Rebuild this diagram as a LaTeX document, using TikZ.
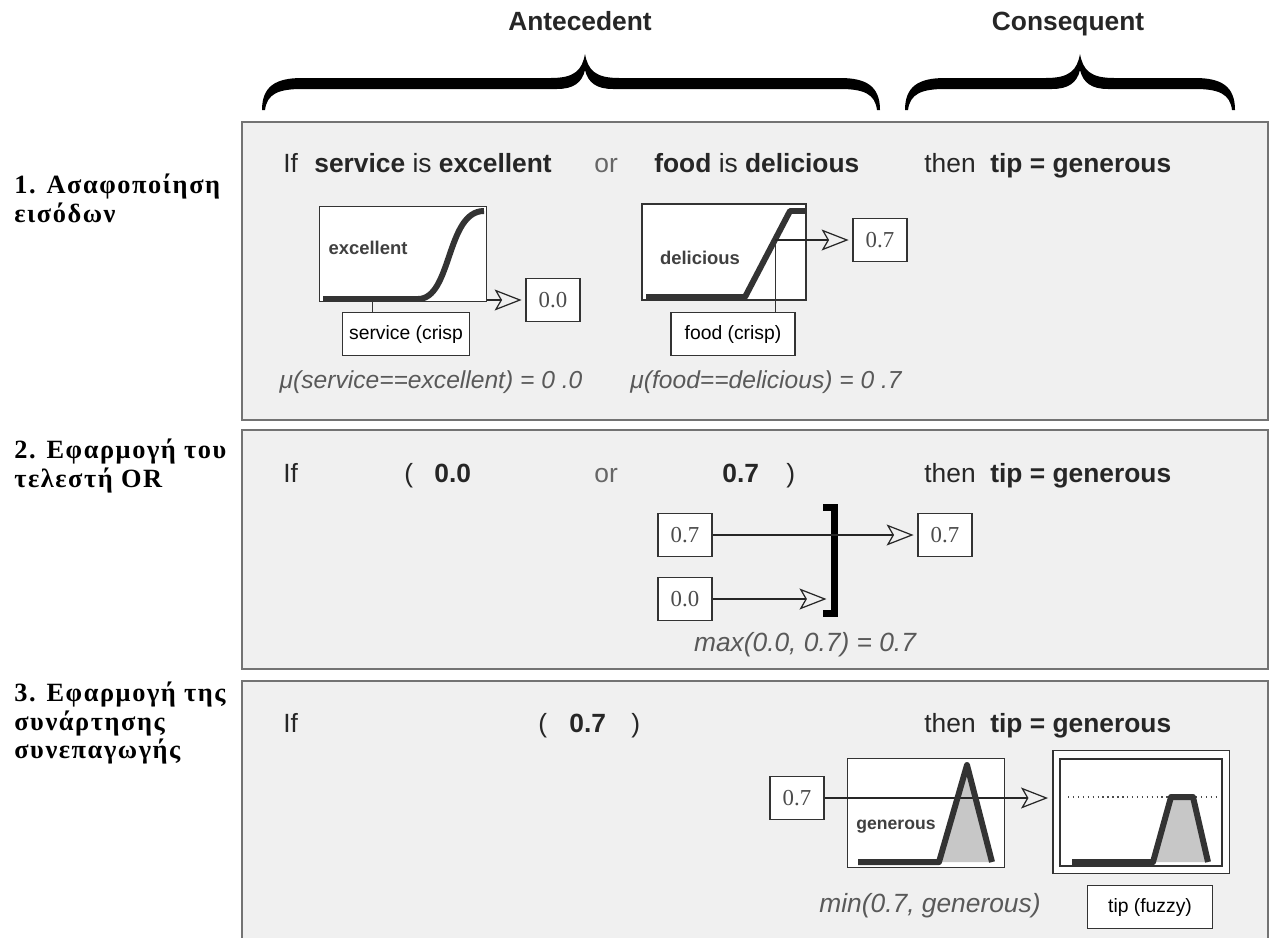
\documentclass[tikz,border=0pt]{standalone}
\usepackage{fontspec}
\setmainfont{Liberation Sans}
\newfontfamily\grfont[LetterSpace=6]{Liberation Serif}
\newfontfamily\numfont{Liberation Serif}
\usetikzlibrary{arrows.meta}

% accolade pleine : debut, pointe, fin
\newcommand\gbrace[3]{%
  \fill[black] (#1,110) .. controls (#1,86) and ({#1+14},78) .. ({#1+40},78)
    -- ({#2-34},78) .. controls ({#2-10},78) and ({#2-3},70) .. (#2,54)
    .. controls ({#2+3},70) and ({#2+10},78) .. ({#2+34},78)
    -- ({#3-40},78) .. controls ({#3-14},78) and (#3,86) .. (#3,110)
    -- ({#3-3},110) .. controls ({#3-5},94) and ({#3-16},89) .. ({#3-40},89)
    -- ({#2+28},89) .. controls ({#2+12},89) and ({#2+3},83) .. (#2,70)
    .. controls ({#2-3},83) and ({#2-12},89) .. ({#2-28},89)
    -- ({#1+40},89) .. controls ({#1+16},89) and ({#1+5},94) .. ({#1+3},110) -- cycle;}

\tikzset{
  panel/.style={draw=black!55, fill=black!6, line width=1.2pt},
  headtext/.style={anchor=base, font=\bfseries\fontsize{15}{17}\selectfont, text=black!85},
  steplabel/.style={anchor=north west, align=left, inner sep=0pt,
    font=\grfont\bfseries\fontsize{15}{16}\selectfont},
  rule/.style={anchor=base west, inner sep=0pt, text=black!85,
    font=\fontsize{15}{17}\selectfont},
  formula/.style={font=\itshape\fontsize{15}{17}\selectfont, text=black!65},
  lbl/.style={font=\bfseries\fontsize{10.5}{12}\selectfont, text=black!75},
  mfbox/.style={draw=black!80, fill=white, line width=1.1pt, inner sep=0pt},
  valbox/.style={draw=black!80, fill=white, line width=1pt, inner sep=0pt,
    minimum width=1.08cm, minimum height=0.86cm, text=black!70,
    font=\numfont\fontsize{13}{15}\selectfont},
  crispbox/.style={draw=black!80, fill=white, line width=1pt, inner sep=0pt,
    minimum width=2.54cm, minimum height=0.86cm,
    font=\fontsize{11}{13}\selectfont},
  mfline/.style={draw=black!80, line width=3.4pt, line join=round},
  conn/.style={draw=black!85, line width=0.7pt, shorten >=2pt,
    -{Stealth[open, length=0.54cm, width=0.42cm, inset=0.12cm]}}
}

\begin{document}
\begin{tikzpicture}[x=0.02cm, y=-0.02cm]
        \clip (0,0) rectangle (1270,937);
        \fill[white] (0,0) rectangle (1270,937);

        % accolades
        \gbrace{262}{585}{880}
        \gbrace{905}{1080}{1235}
        \node[headtext] at (580,30) (ante) {Antecedent};
        \node[headtext] at (1068,30) (cons) {Consequent};

        % cadres
        \draw[panel] (242,122) rectangle (1268,420);
        \draw[panel] (242,430) rectangle (1268,669);
        \draw[panel] (242,681) rectangle (1268,960);

        \node[steplabel] at (14,174) (s1) {1. Ασαφοποίηση\\εισόδων};
        \node[steplabel] at (14,439) (s2) {2. Εφαρμογή του\\τελεστή OR};
        \node[steplabel] at (14,682) (s3) {3. Εφαρμογή της\\συνάρτησης\\συνεπαγωγής};

        % etape 1
        \node[rule] at (283,172) (if1) {If};
        \node[rule] at (314,172) (ant1) {\textbf{service} is \textbf{excellent}};
        \node[rule, text=black!60] at (594,172) (or1) {or};
        \node[rule] at (654,172) (ant2) {\textbf{food} is \textbf{delicious}};
        \node[rule] at (924,172) (then1) {then};
        \node[rule] at (990,172) (cons1) {\textbf{tip = generous}};

        \node[mfbox, minimum width=3.34cm, minimum height=1.9cm] at (403,254) (mfexc) {};
        \draw[mfline] (323,299) -- (418,299) .. controls (452,299) and (446,211) .. (484,211);
        \node[lbl] at (368,248) (lexc) {excellent};
        \node[crispbox] at (406,334) (srv) {service (crisp};
        \node[valbox] at (553,300) (vexc) {0.0};
        \coordinate (cexc) at (372,302);
        \draw[black!80] (cexc) -- (cexc |- srv.north);
        \path[conn] (vexc -| mfexc.east) -- (vexc);

        \node[mfbox, minimum width=3.28cm, minimum height=1.92cm] at (724,252) (mfdel) {};
        \draw[mfline] (646,297) -- (745,297) -- (790,211) -- (805,211);
        \node[lbl] at (700,258) (ldel) {delicious};
        \node[crispbox, minimum width=2.48cm] at (733,334) (fd) {food (crisp)};
        \node[valbox] at (880,240) (vdel) {0.7};
        \coordinate (cdel) at (775,240);
        \draw[black!80] (cdel) -- (cdel |- fd.north);
        \path[conn] (cdel) -- (vdel);

        \node[formula, font=\itshape\fontsize{14}{16}\selectfont] at (431,382) (muexc) {μ(service==excellent) = 0 .0};
        \node[formula, font=\itshape\fontsize{14}{16}\selectfont] at (766,382) (mudel) {μ(food==delicious) = 0 .7};

        % etape 2
        \node[rule] at (283,482) (if2) {If};
        \node[rule] at (404,482) (lp2) {(};
        \node[rule] at (434,482) (v2a) {\textbf{0.0}};
        \node[rule, text=black!60] at (594,482) (or2) {or};
        \node[rule] at (722,482) (v2b) {\textbf{0.7}};
        \node[rule] at (786,482) (rp2) {)};
        \node[rule] at (924,482) (then2) {then};
        \node[rule] at (990,482) (cons2) {\textbf{tip = generous}};

        \node[valbox] at (685,535) (in07) {0.7};
        \node[valbox] at (685,599) (in00) {0.0};
        \node[valbox] at (945,535) (out07) {0.7};
        \draw[line width=0.14cm] (823,507) -- (834,507) -- (834,613) -- (823,613);
        \coordinate (brk) at (830,599);
        \path[conn] (in07) -- (out07);
        \path[conn] (in00) -- (brk);
        \node[formula] at (805,645) (maxf) {max(0.0, 0.7) = 0.7};

        % etape 3
        \node[rule] at (283,732) (if3) {If};
        \node[rule] at (538,732) (lp3) {(};
        \node[rule] at (569,732) (v3) {\textbf{0.7}};
        \node[rule] at (631,732) (rp3) {)};
        \node[rule] at (924,732) (then3) {then};
        \node[rule] at (990,732) (cons3) {\textbf{tip = generous}};

        \node[valbox] at (797,798) (imp07) {0.7};
        \node[mfbox, minimum width=3.14cm, minimum height=2.18cm] at (926,813) (mfgen) {};
        \fill[black!22] (939,862) -- (967,765) -- (992,862) -- cycle;
        \node[lbl, font=\bfseries\fontsize{10}{12}\selectfont] at (896,827) (lgen) {generous};
        \node[mfbox, minimum width=3.54cm, minimum height=2.46cm] at (1141,812) (mftip) {};
        \draw[draw=black!80, line width=1.1pt] (1060,759) rectangle (1222,866);
        \draw[dotted, black!70, line width=0.8pt] (1068,797) -- (1216,797);
        \fill[black!22] (1153,862) -- (1171,797) -- (1193,797) -- (1208,862) -- cycle;
        \draw[mfline] (1072,862) -- (1153,862) -- (1171,797) -- (1193,797) -- (1208,862);
        \path[conn] (imp07) -- (imp07 -| mftip.west);
        \draw[mfline] (858,862) -- (939,862) -- (967,765) -- (992,862);
        \node[formula] at (930,906) (minf) {min(0.7, generous)};
        \node[crispbox, minimum width=2.5cm] at (1150,907) (tipf) {tip (fuzzy)};
      \end{tikzpicture}
\end{document}
